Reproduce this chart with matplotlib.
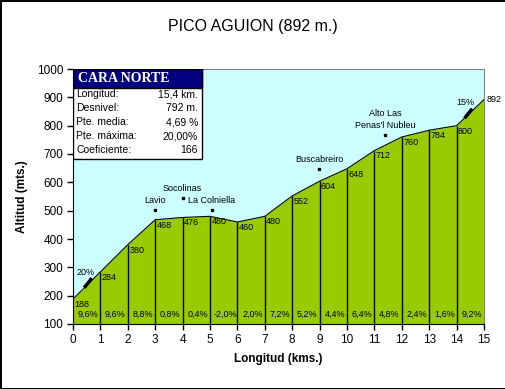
import matplotlib
matplotlib.use('Agg')
import matplotlib.pyplot as plt
from matplotlib.patches import Rectangle

plt.rcParams['font.family'] = ['Liberation Sans', 'DejaVu Sans']

km = [0, 1, 2, 3, 4, 5, 6, 7, 8, 9, 10, 11, 12, 13, 14, 15]
alt = [188, 284, 380, 468, 476, 480, 460, 480, 552, 604, 648, 712, 760, 784, 800, 892]
pct = ['9,6%', '9,6%', '8,8%', '0,8%', '0,4%', '-2,0%', '2,0%', '7,2%',
       '5,2%', '4,4%', '6,4%', '4,8%', '2,4%', '1,6%', '9,2%']

places = ['Lavio', 'Socolinas', 'La Colniella', 'Buscabreiro', "Alto Las\nPenas'l Nubleu"]
place_km = [3.0, 4.0, 5.07, 8.98, 11.39]
place_alt = [502, 545, 502, 648, 767]

max_lbl = ['20%', '15%']
max_km = [0.55, 14.43]
max_alt = [245, 843]

info_keys = ['Longitud:', 'Desnivel:', 'Pte. media:', 'Pte. máxima:', 'Coeficiente:']
info_vals = ['15,4 km.', '792 m.', '4,69 %', '20,00%', '166']

fig = plt.figure(figsize=(5.06, 3.89), dpi=100, edgecolor='black', linewidth=2)
ax = fig.add_axes([73/506, 1-324/389, 411/506, 255/389])
ax.set_facecolor('#ccffff')
ax.set_xlim(0, 15)
ax.set_ylim(100, 1000)

ax.fill_between(km, alt, 100, color='#99cc00', lw=0)
ax.plot(km, alt, color='black', lw=0.8)
ax.vlines(km[1:-1], 100, alt[1:-1], color='black', lw=1)

fs = 6.5
for x, y in zip(km[:-1], alt[:-1]):
    ax.text(x + 0.05, y - 3, str(y), fontsize=fs, ha='left', va='top')
ax.text(km[-1] + 0.08, alt[-1], str(alt[-1]), fontsize=fs, ha='left', va='center', clip_on=False)
for i, p in enumerate(pct):
    ax.text(km[i] + 0.55, 134, p, fontsize=fs, ha='center', va='center')

for name, x, y in zip(places, place_km, place_alt):
    ax.plot(x, y, marker='s', ms=1.5, color='black')
    ax.text(x, y + 18, name, fontsize=fs, ha='center', va='bottom', linespacing=1.4)

for lbl, x, y in zip(max_lbl, max_km, max_alt):
    ax.plot([x - 0.1, x + 0.1], [y - 12, y + 12], color='black', lw=2.5)
    ax.text(x - 0.1, y + 22, lbl, fontsize=fs, ha='center', va='bottom')

ax.set_xticks(range(0, 16))
ax.set_yticks(range(100, 1001, 100))
ax.tick_params(direction='out', length=4, width=1, labelsize=8.5, pad=3)
ax.spines['top'].set_color('#808080')
ax.spines['right'].set_color('#808080')
ax.set_xlabel('Longitud (kms.)', fontsize=8.5, fontweight='bold', labelpad=5)
ax.set_ylabel('Altitud (mts.)', fontsize=8.5, fontweight='bold', labelpad=6)

# info box
bw = 129/411
ax.add_patch(Rectangle((0, 0.647), bw, 0.353, transform=ax.transAxes,
                       facecolor='white', edgecolor='black', lw=1, zorder=5))
ax.add_patch(Rectangle((0, 0.925), bw, 0.075, transform=ax.transAxes,
                       facecolor='#000080', edgecolor='black', lw=1, zorder=6))
ax.text(0.012, 0.962, 'CARA NORTE', transform=ax.transAxes, color='white',
        fontsize=10, fontweight='bold', family='Liberation Serif', va='center', zorder=7)
row_y = [0.901, 0.846, 0.791, 0.736, 0.681]
for k, v, y in zip(info_keys, info_vals, row_y):
    ax.text(0.008, y, k, transform=ax.transAxes, fontsize=7.5, va='center', zorder=7)
    ax.text(bw - 0.01, y, v, transform=ax.transAxes, fontsize=7.5, va='center', ha='right', zorder=7)

fig.text(0.5, 1 - 27/389, 'PICO AGUION (892 m.)', fontsize=11.5, ha='center', va='center')

fig.savefig('out.png', dpi=100)
